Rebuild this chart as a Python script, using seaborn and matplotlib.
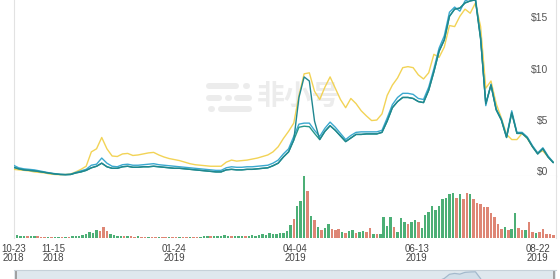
import numpy as np
import pandas as pd
import matplotlib
matplotlib.use("Agg")
import matplotlib.pyplot as plt
import seaborn as sns
from matplotlib.lines import Line2D

# ---------------- data ----------------
START = "2018-10-23"
PRICE_STEP = 3   # days between price samples
VOL_STEP = 2     # days between volume bars

price_yellow = [
    0.6, 0.55, 0.5, 0.45, 0.35, 0.3, 0.25, 0.15, 0.1, 0.08,
    0.1, 0.15, 0.35, 0.6, 0.9, 2.3, 2.6, 3.7, 2.6, 1.9,
    1.85, 2.1, 2.15, 1.95, 2.0, 2.1, 2.2, 2.25, 2.0, 1.8,
    1.65, 1.55, 1.45, 1.3, 1.15, 1.05, 1.0, 0.95, 0.9, 0.9,
    0.9, 1.3, 1.5, 1.4, 1.45, 1.5, 1.6, 1.7, 1.85, 2.0,
    2.3, 2.8, 3.6, 4.3, 5.1, 7.8, 9.9, 10.0, 8.2, 7.4,
    8.6, 9.6, 8.5, 7.4, 6.6, 7.5, 7.0, 6.3, 5.8, 5.35,
    5.4, 6.0, 7.8, 8.8, 9.5, 10.5, 10.6, 10.5, 9.8, 9.4,
    10.0, 11.8, 11.5, 12.5, 14.6, 14.5, 15.5, 16.2, 15.8, 16.8,
    14.5, 8.5, 9.2, 7.0, 5.6, 4.0, 3.5, 3.5, 4.1, 3.6,
    2.8, 2.2, 2.4, 1.8, 1.3,
]
price_blue = [
    1.0, 0.75, 0.65, 0.6, 0.55, 0.45, 0.35, 0.25, 0.18, 0.12,
    0.1, 0.12, 0.3, 0.45, 0.6, 1.0, 1.1, 1.7, 1.2, 0.9,
    0.85, 1.05, 1.1, 1.0, 1.0, 1.05, 1.1, 1.15, 1.05, 1.0,
    0.95, 0.9, 0.85, 0.8, 0.75, 0.7, 0.65, 0.6, 0.55, 0.5,
    0.5, 0.75, 0.85, 0.8, 0.8, 0.85, 0.85, 0.9, 0.95, 1.0,
    1.2, 1.5, 2.1, 2.6, 3.8, 5.0, 5.1, 5.1, 4.4, 3.8,
    4.6, 5.2, 4.7, 4.1, 3.5, 3.9, 4.2, 4.25, 4.25, 4.25,
    4.25, 4.4, 5.6, 6.9, 7.6, 8.0, 8.0, 7.9, 7.5, 7.4,
    8.6, 10.4, 12.4, 13.6, 15.9, 16.4, 16.0, 17.0, 17.2, 17.3,
    13.5, 6.8, 8.9, 6.5, 5.5, 3.8, 6.3, 4.2, 4.2, 3.75,
    2.9, 2.2, 2.7, 1.9, 1.3,
]
price_green = [
    0.8, 0.65, 0.55, 0.5, 0.45, 0.38, 0.3, 0.22, 0.15, 0.1,
    0.08, 0.1, 0.25, 0.35, 0.5, 0.75, 0.9, 1.2, 0.85, 0.7,
    0.7, 0.85, 0.9, 0.8, 0.8, 0.85, 0.85, 0.9, 0.85, 0.8,
    0.75, 0.7, 0.7, 0.65, 0.6, 0.55, 0.5, 0.45, 0.4, 0.35,
    0.35, 0.55, 0.6, 0.55, 0.55, 0.6, 0.6, 0.65, 0.7, 0.75,
    0.95, 1.2, 1.8, 2.3, 3.45, 4.7, 4.8, 4.75, 4.1, 3.5,
    4.3, 4.85, 4.4, 3.85, 3.3, 3.65, 4.0, 4.0, 4.05, 4.05,
    4.05, 4.2, 5.3, 6.6, 7.2, 7.6, 7.6, 7.5, 7.2, 7.1,
    8.3, 10.1, 12.1, 13.2, 15.5, 16.2, 16.3, 16.8, 17.0, 17.1,
    13.3, 7.0, 8.8, 6.4, 5.4, 3.7, 6.1, 4.1, 4.1, 3.65,
    2.8, 2.1, 2.6, 1.8, 1.25,
]
price_teal = [
    0.8, 0.65, 0.55, 0.5, 0.45, 0.38, 0.3, 0.22, 0.15, 0.1,
    0.08, 0.1, 0.25, 0.35, 0.5, 0.75, 0.9, 1.2, 0.85, 0.7,
    0.7, 0.85, 0.9, 0.8, 0.8, 0.85, 0.85, 0.9, 0.85, 0.8,
    0.75, 0.7, 0.7, 0.65, 0.6, 0.55, 0.5, 0.45, 0.4, 0.35,
    0.35, 0.55, 0.6, 0.55, 0.55, 0.6, 0.6, 0.65, 0.7, 0.75,
    0.95, 1.2, 1.8, 2.3, 3.45, 7.6, 9.6, 9.2, 5.3, 3.5,
    4.3, 4.85, 4.4, 3.85, 3.3, 3.65, 4.0, 4.0, 4.05, 4.05,
    4.05, 4.2, 5.3, 6.6, 7.2, 7.6, 7.6, 7.5, 7.2, 7.1,
    8.3, 10.1, 12.1, 13.2, 15.5, 16.2, 16.3, 16.8, 17.0, 17.1,
    13.3, 7.0, 8.8, 6.4, 5.4, 3.7, 6.1, 4.1, 4.1, 3.65,
    2.8, 2.1, 2.6, 1.8, 1.25,
]
volume = [
    6, 4, 3, 3, 2, 3, 2, 2, 1, 1,
    1, 1, 1, 1, 1, 1, 1, 2, 2, 3,
    4, 6, 9, 7, 13, 10, 17, 11, 5, 4,
    3, 3, 2, 2, 2, 1, 2, 1, 1, 1,
    1, 1, 1, 1, 1, 1, 1, 1, 1, 1,
    1, 1, 1, 1, 1, 2, 2, 2, 3, 2,
    3, 4, 3, 2, 3, 2, 3, 2, 3, 4,
    3, 4, 5, 4, 7, 5, 6, 8, 7, 10,
    20, 30, 52, 60, 100, 76, 35, 29, 17, 12,
    16, 22, 14, 12, 14, 9, 7, 11, 13, 7,
    9, 11, 9, 16, 6, 5, 6, 33, 18, 33,
    17, 9, 32, 25, 22, 25, 28, 25, 16, 36,
    41, 52, 44, 52, 63, 65, 71, 72, 65, 71,
    63, 73, 71, 62, 56, 55, 50, 49, 40, 33,
    22, 14, 17, 13, 14, 40, 16, 12, 13, 25,
    9, 7, 9, 14, 6, 5, 4,
]
volume_dir = (
    "ggggrggrrr" "grggrgrggg" "gggggrrrgg" "ggrgrrgrrg" "rrgrrgrrgr"
    "rgrrgggrgg" "gggrgggrgg" "gggggggggg" "grgggrgrgr" "ggrrrgrggr"
    "ggrrgrgggg" "rgggrggrgg" "ggggggggrg" "rrgrrrrrrr" "rrgrggrrgr"
    "rgrrrrr"
)
tick_dates = ["2018-10-23", "2018-11-15", "2019-01-24", "2019-04-04", "2019-06-13", "2019-08-22"]
tick_labels = ["10-23\n2018", "11-15\n2018", "01-24\n2019", "04-04\n2019", "06-13\n2019", "08-22\n2019"]
price_ticks = [0, 5, 10, 15]
price_tick_labels = ["$0", "$5", "$10", "$15"]

# ---------------- style ----------------
sns.set_style("white")
plt.rcParams["font.family"] = ["Liberation Sans", "DejaVu Sans"]

W, H = 560, 279
fig = plt.figure(figsize=(W / 100, H / 100), dpi=100)
fig.patch.set_facecolor("white")


def rect(x0, y0, x1, y1):
    return [x0 / W, 1 - y1 / H, (x1 - x0) / W, (y1 - y0) / H]


ax_p = fig.add_axes(rect(13.5, 0, 556, 175.5))
ax_v = fig.add_axes(rect(13.5, 175.5, 556, 237.5))
ax_n = fig.add_axes(rect(13.5, 270, 556, 303))

start = pd.Timestamp(START)
p_days = np.arange(len(price_blue)) * PRICE_STEP
v_days = np.arange(len(volume)) * VOL_STEP
tick_pos = [(pd.Timestamp(d) - start).days for d in tick_dates]
XMAX = (556 - 13.5) / 1.73

# watermark (behind lines)
ax_p.text(298.5 / W, 1 - 97 / H, "非小号", transform=fig.transFigure, fontsize=20,
          family=["Noto Sans CJK SC", "DejaVu Sans"], weight="bold", color="#ececec",
          ha="center", va="center", zorder=0)
for (xa, xb, yy) in [(209, 236, 86), (246, 246.5, 86), (209, 219, 97.5), (228, 228.5, 97.5),
                     (237, 249, 97.5), (211, 211.5, 109), (221, 249, 109)]:
    ax_p.add_line(Line2D([xa / W, xb / W], [1 - yy / H, 1 - yy / H], transform=fig.transFigure,
                         color="#ececec", lw=4.3, solid_capstyle="round", zorder=0))

# price lines
series = [
    (price_yellow, "#f2d356"),
    (price_blue, "#3aa8cf"),
    (price_green, "#26978a"),
    (price_teal, "#1f8790"),
]
for vals, col in series:
    sns.lineplot(x=p_days, y=vals, color=col, lw=1.0, ax=ax_p, zorder=3)

ax_p.set_xlim(0, XMAX)
ax_p.set_ylim(0, 175.5 / 10.27)
ax_p.set_xticks([])
ax_p.yaxis.tick_right()
ax_p.set_yticks(price_ticks)
ax_p.set_yticklabels(price_tick_labels)
ax_p.tick_params(axis="y", length=0, pad=-5.8, labelsize=7.5, labelcolor="#555555")
for lab in ax_p.get_yticklabels():
    lab.set_horizontalalignment("right")
    lab.set_verticalalignment("baseline")
ax_p.set_xlabel("")
ax_p.set_ylabel("")
for s in ["top"]:
    ax_p.spines[s].set_visible(False)
for s in ["left", "right", "bottom"]:
    ax_p.spines[s].set_color("#e2e2e2")
    ax_p.spines[s].set_linewidth(0.8)

# volume bars
vdf = pd.DataFrame({"day": v_days, "vol": volume, "dir": list(volume_dir)})
sns.barplot(data=vdf, x="day", y="vol", hue="dir", palette={"g": "#3cbf74", "r": "#ef7a64"},
            native_scale=True, dodge=False, width=0.72, errorbar=None, legend=False,
            linewidth=0, ax=ax_v)
ax_v.set_xlim(0, XMAX)
ax_v.set_ylim(0, 101)
ax_v.set_yticks([])
ax_v.set_xticks(tick_pos)
ax_v.set_xticklabels(tick_labels)
ax_v.tick_params(axis="x", length=0, pad=4.6, labelsize=7, labelcolor="#444444")
for lab in ax_v.get_xticklabels():
    lab.set_linespacing(0.95)
ax_v.set_xlabel("")
ax_v.set_ylabel("")
ax_v.spines["top"].set_visible(False)
ax_v.spines["bottom"].set_visible(False)
for s in ["left", "right"]:
    ax_v.spines[s].set_color("#e2e2e2")
    ax_v.spines[s].set_linewidth(0.8)

# navigator
ax_n.set_facecolor("#dfe8ee")
ax_n.fill_between(p_days, price_blue, color="#d2dfe9", lw=0)
sns.lineplot(x=p_days, y=price_blue, color="#a3b9cc", lw=0.9, ax=ax_n)
ax_n.axvline(1.2, color="#9a9a9a", lw=1.3)
ax_n.axvline(XMAX - 1.2, color="#9a9a9a", lw=1.3)
ax_n.set_xlim(0, XMAX)
ax_n.set_ylim(0, 18.3)
ax_n.set_xticks([])
ax_n.set_yticks([])
ax_n.set_xlabel("")
ax_n.set_ylabel("")
for s in ["left", "right", "bottom"]:
    ax_n.spines[s].set_visible(False)
ax_n.spines["top"].set_color("#c6d1d9")
ax_n.spines["top"].set_linewidth(0.8)

fig.savefig("out.png", dpi=100)
